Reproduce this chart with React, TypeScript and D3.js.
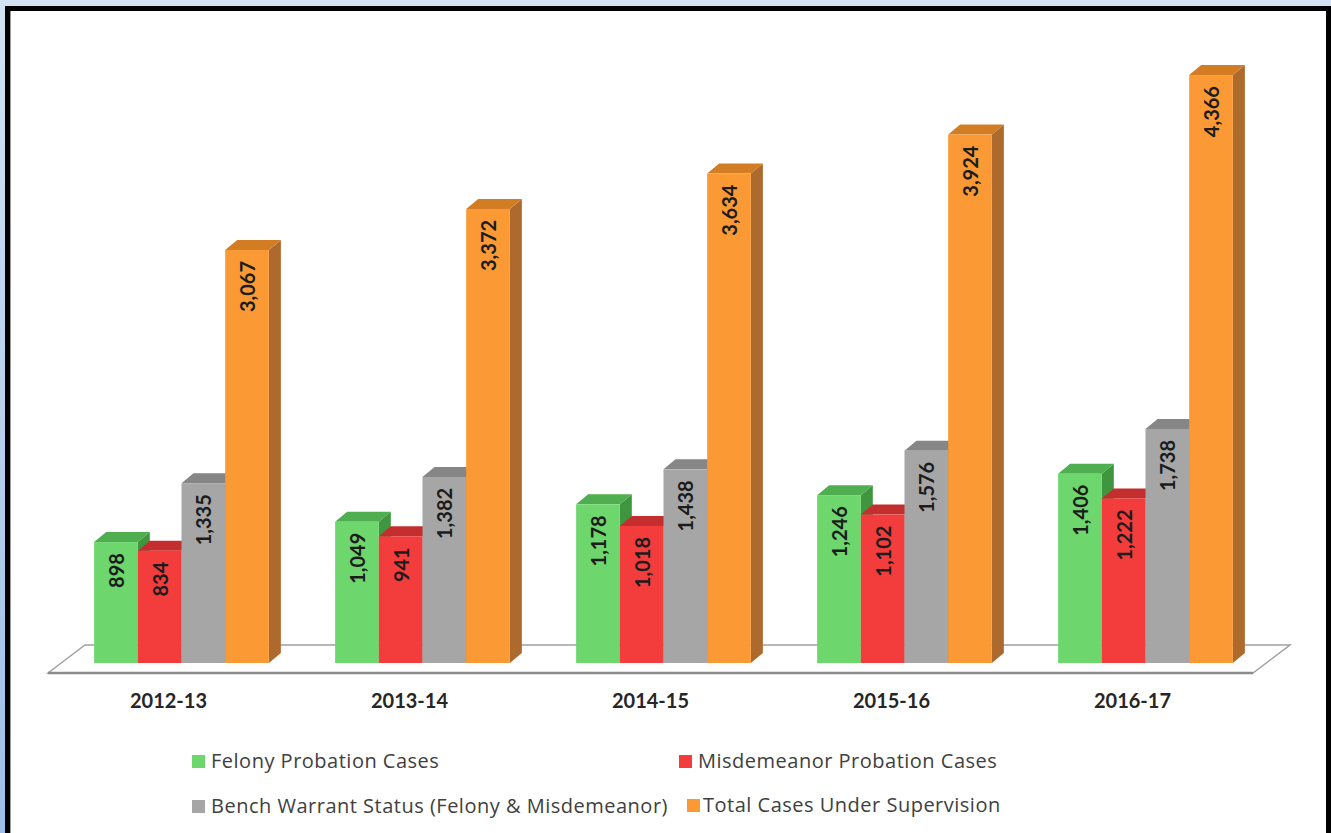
import React from "react";
import * as d3 from "d3";

const categories = ["2012-13", "2013-14", "2014-15", "2015-16", "2016-17"];
const seriesNames = [
  "Felony Probation Cases",
  "Misdemeanor Probation Cases",
  "Bench Warrant Status (Felony & Misdemeanor)",
  "Total Cases Under Supervision",
];
const felony = [898, 1049, 1178, 1246, 1406];
const misdemeanor = [834, 941, 1018, 1102, 1222];
const benchWarrant = [1335, 1382, 1438, 1576, 1738];
const totalCases = [3067, 3372, 3634, 3924, 4366];

const seriesValues = [felony, misdemeanor, benchWarrant, totalCases];
const palette = [
  { front: "#6dd66d", top: "#4fae4f", side: "#3f963f" },
  { front: "#f33c3c", top: "#c42e2e", side: "#a52626" },
  { front: "#a6a6a6", top: "#868686", side: "#737373" },
  { front: "#fb9a35", top: "#d27c24", side: "#ad6a2c" },
];

const W = 1331;
const H = 833;
const BASE = 663;
const DX = 12;
const DY = -10;
const FONT = "Lato, 'Open Sans', sans-serif";
const LEGEND_FONT = "'Open Sans', 'Noto Sans', sans-serif";

export default function App() {
  const y = d3.scaleLinear().domain([0, 4500]).range([BASE, 57]);
  const xBar = d3
    .scaleBand<string>()
    .domain(categories)
    .range([61, 1266])
    .paddingInner(0.275)
    .paddingOuter(0.1375);
  const xFloor = d3.scaleBand<string>().domain(categories).range([48, 1253]);
  const bw = xBar.bandwidth() / 4;
  const fmt = d3.format(",");

  const floorFrontY = 673;
  const floorBackY = 645;
  const floorDX = 37;
  const floorPts = [
    [48, floorFrontY],
    [48 + floorDX, floorBackY],
    [1253 + floorDX, floorBackY],
    [1253, floorFrontY],
  ];

  const legendItems = [
    { mx: 192, my: 755, tx: 211, ty: 768 },
    { mx: 679, my: 755, tx: 698, ty: 768 },
    { mx: 192, my: 800, tx: 211, ty: 813 },
    { mx: 687, my: 799, tx: 703, ty: 812 },
  ];

  return (
    <svg
      width={W}
      height={H}
      style={{ position: "absolute", left: 0, top: 0 }}
      xmlns="http://www.w3.org/2000/svg"
    >
      <defs>
        <linearGradient id="bgGrad" x1="0" y1="0" x2="0" y2="1">
          <stop offset="0" stopColor="#d3e2f2" />
          <stop offset="1" stopColor="#9dbfe8" />
        </linearGradient>
      </defs>
      <rect x={0} y={0} width={W} height={H} fill="url(#bgGrad)" />
      <rect x={5} y={6} width={W} height={H} fill="#000" />
      <rect x={10} y={11} width={1316} height={H} fill="#fff" />
      <line x1={10.5} y1={11} x2={10.5} y2={H} stroke="#9a9a9a" strokeWidth={1} />

      {/* floor */}
      <polygon
        points={floorPts.map((p) => p.join(",")).join(" ")}
        fill="#fff"
        stroke="#a0a0a0"
        strokeWidth={1.5}
      />
      <line
        x1={48}
        y1={floorFrontY}
        x2={1253}
        y2={floorFrontY}
        stroke="#8c8c8c"
        strokeWidth={2.5}
      />

      {/* bars */}
      {categories.map((c, ci) => (
        <g key={c}>
          {seriesValues.map((vals, si) => {
            const v = vals[ci];
            const x0 = (xBar(c) as number) + si * bw;
            const yt = y(v);
            const col = palette[si];
            const side = [
              [x0 + bw, yt],
              [x0 + bw + DX, yt + DY],
              [x0 + bw + DX, BASE + DY],
              [x0 + bw, BASE],
            ];
            const top = [
              [x0, yt],
              [x0 + DX, yt + DY],
              [x0 + bw + DX, yt + DY],
              [x0 + bw, yt],
            ];
            return (
              <g key={si}>
                <polygon points={side.map((p) => p.join(",")).join(" ")} fill={col.side} />
                <polygon points={top.map((p) => p.join(",")).join(" ")} fill={col.top} />
                <rect x={x0} y={yt} width={bw} height={BASE - yt} fill={col.front} />
              </g>
            );
          })}
          {seriesValues.map((vals, si) => {
            const v = vals[ci];
            const x0 = (xBar(c) as number) + si * bw;
            const yt = y(v);
            const cx = x0 + bw / 2;
            const ty = yt + 11;
            return (
              <text
                key={"l" + si}
                transform={`translate(${cx},${ty}) rotate(-90)`}
                textAnchor="end"
                dominantBaseline="central"
                fontFamily={FONT}
                fontWeight={700}
                fontSize={20}
                fill="#1c1c1c"
              >
                {fmt(v)}
              </text>
            );
          })}
        </g>
      ))}

      {/* category labels */}
      {categories.map((c) => (
        <text
          key={"c" + c}
          x={(xFloor(c) as number) + xFloor.bandwidth() / 2}
          y={708}
          textAnchor="middle"
          fontFamily={FONT}
          fontWeight={700}
          fontSize={20}
          fill="#262626"
        >
          {c}
        </text>
      ))}

      {/* legend */}
      {seriesNames.map((name, i) => {
        const p = legendItems[i];
        return (
          <g key={name}>
            <rect x={p.mx} y={p.my} width={13} height={13} fill={palette[i].front} />
            <text
              x={p.tx}
              y={p.ty}
              fontFamily={LEGEND_FONT}
              fontSize={20}
              letterSpacing={0.5}
              fill="#404040"
            >
              {name}
            </text>
          </g>
        );
      })}
    </svg>
  );
}
